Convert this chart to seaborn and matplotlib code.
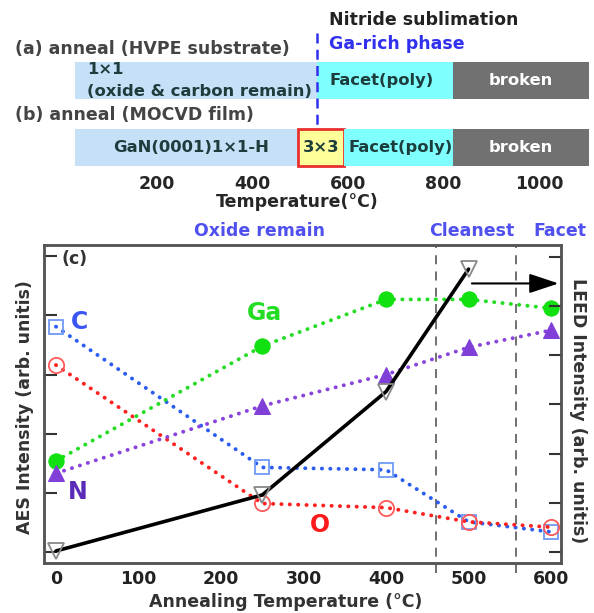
import numpy as np
import pandas as pd
import matplotlib
matplotlib.use('Agg')
import matplotlib.pyplot as plt
import seaborn as sns

sns.set_style('white')
plt.rcParams['font.family'] = ['DejaVu Sans']
plt.rcParams['font.weight'] = 'bold'

# --- データ (c) AES / LEED ---
temps = [0, 250, 400, 500, 600]
aes_c = [3.81, 1.43, 1.39, 0.51, 0.34]
aes_o = [3.16, 0.82, 0.75, 0.51, 0.42]
aes_ga = [1.54, 3.48, 4.27, 4.27, 4.12]
aes_n = [1.33, 2.47, 3.00, 3.46, 3.75]
leed_temps = [0, 250, 400, 500]
leed = [0.02, 1.16, 3.26, 5.75]
region_lines = [460, 558]
region_labels = ['Oxide remain', 'Cleanest', 'Facet']
region_pos = [247, 504, 611]

# --- データ (a)(b) 相図 ---
row_a_start = [28, 535, 820]
row_a_end = [535, 820, 1105]
row_a_names = ['', 'Facet(poly)', 'broken']
row_b_start = [28, 495, 592, 820]
row_b_end = [495, 592, 820, 1105]
row_b_names = ['GaN(0001)1×1-H', '3×3', 'Facet(poly)', 'broken']
temp_ticks = [200, 400, 600, 800, 1000]
sublimation_T = 535

light_blue = '#c6e0f8'
cyan = '#80ffff'
gray = '#717171'
yellow = '#ffff99'

fig = plt.figure(figsize=(5.94, 6.13), dpi=100)

# ===== 上段: 相図 (y はピクセル単位) =====
top = fig.add_axes([0, (613 - 172) / 613, 1, 172 / 613])
top.set_xlim(-129, 1115)
top.set_ylim(172, 0)
for s in top.spines.values():
    s.set_visible(False)

seg_a = pd.DataFrame({'start': row_a_start, 'end': row_a_end, 'name': row_a_names,
                      'color': [light_blue, cyan, gray]})
seg_b = pd.DataFrame({'start': row_b_start, 'end': row_b_end, 'name': row_b_names,
                      'color': [light_blue, yellow, cyan, gray]})

top.barh([80.5] * len(seg_a), seg_a['end'] - seg_a['start'], left=seg_a['start'],
         height=37, color=seg_a['color'], edgecolor='none')
top.barh([147.5] * len(seg_b), seg_b['end'] - seg_b['start'], left=seg_b['start'],
         height=37, color=seg_b['color'],
         edgecolor=['none', '#e83030', 'none', 'none'], linewidth=2)

txt = dict(fontsize=12.5, fontweight='bold', va='center')
bar_txt = dict(fontsize=11.8, fontweight='bold', va='center')
for i, r in seg_a.iterrows():
    if r['name']:
        c = 'white' if r['name'] == 'broken' else '#1d3d3d'
        cx = 671 if r['name'] == 'Facet(poly)' else (r['start'] + r['end']) / 2
        top.text(cx, 80.5, r['name'], ha='center', color=c, **bar_txt)
for i, r in seg_b.iterrows():
    c = 'white' if r['name'] == 'broken' else '#1d3d3d'
    cx = (r['start'] + r['end']) / 2
    if r['name'] == 'GaN(0001)1×1-H':
        cx = 271
    if r['name'] == 'Facet(poly)':
        cx = 709
    top.text(cx, 147.5, r['name'], ha='center', color=c, **bar_txt)

top.text(53, 70, '1×1', ha='left', color='#1d3d3d', **bar_txt)
top.text(53, 91, '(oxide & carbon remain)', ha='left', color='#1d3d3d', **bar_txt)
top.text(-97, 49, '(a) anneal (HVPE substrate)', ha='left', color='#444444', **txt)
top.text(-97, 115, '(b) anneal (MOCVD film)', ha='left', color='#444444', **txt)
top.text(560, 20, 'Nitride sublimation', ha='left', color='#222222', **txt)
top.text(560, 44, 'Ga-rich phase', ha='left', color='#3030ee', **txt)
top.plot([sublimation_T, sublimation_T], [33, 128], color='#3030ee', lw=1.8,
         linestyle=(0, (4, 2.5)))

top.set_yticks([])
top.set_xticks(temp_ticks)
top.tick_params(axis='x', length=0, pad=2, labelsize=12.5)
top.set_xlabel('Temperature(°C)', fontsize=12.5, fontweight='bold', labelpad=0)

# ===== 下段: (c) AES / LEED =====
ax = fig.add_axes([44 / 594, 50 / 613, 517 / 594, 318 / 613])
ax.set_xlim(-14.5, 612)
ax.set_ylim(-0.186, 5.19)

dot = dict(linestyle=(0, (0.05, 2.1)), linewidth=2.8, dash_capstyle='round')
sns.lineplot(x=temps, y=aes_c, ax=ax, color='#2a5cf0', marker='s', markersize=10,
             markerfacecolor='none', markeredgecolor='#6f9af5', markeredgewidth=1.3, **dot)
sns.lineplot(x=temps, y=aes_o, ax=ax, color='#ff2020', marker='o', markersize=11,
             markerfacecolor='none', markeredgecolor='#ff5a5a', markeredgewidth=1.3, **dot)
sns.lineplot(x=temps, y=aes_ga, ax=ax, color='#22dd22', marker='o', markersize=11,
             markerfacecolor='#11e011', markeredgecolor='#11e011', **dot)
sns.lineplot(x=temps, y=aes_n, ax=ax, color='#8844dd', marker='^', markersize=11,
             markerfacecolor='#8040d8', markeredgecolor='#8040d8', **dot)

for xv in region_lines:
    ax.axvline(xv, ymin=-0.03, ymax=1, color='#666666', lw=1.3,
               linestyle=(0, (5, 4)), clip_on=False, zorder=1)

for lab, xp in zip(region_labels, region_pos):
    ax.text(xp, 5.42, lab, ha='center', va='center', fontsize=12.5, fontweight='bold',
            color='#5050ee', clip_on=False)

ax.text(7, 4.95, '(c)', ha='left', va='center', fontsize=12.5, fontweight='bold', color='#333333')
ax.text(18, 3.89, 'C', ha='left', va='center', fontsize=17, fontweight='bold', color='#3a55f0')
ax.text(253, 4.04, 'Ga', ha='center', va='center', fontsize=17, fontweight='bold', color='#22dd22')
ax.text(26, 1.02, 'N', ha='center', va='center', fontsize=17, fontweight='bold', color='#5a2ab8')
ax.text(320, 0.46, 'O', ha='center', va='center', fontsize=17, fontweight='bold', color='#ff1a1a')

ax.annotate('', xy=(609, 4.54), xytext=(504, 4.54),
            arrowprops=dict(arrowstyle='-|>,head_length=0.9,head_width=0.3',
                            lw=1.5, color='black', mutation_scale=20, shrinkA=0, shrinkB=0),
            annotation_clip=False)

ax.set_xticks([0, 100, 200, 300, 400, 500, 600])
ax.set_yticks([0, 1, 2, 3, 4, 5])
ax.set_yticklabels([])
ax.tick_params(axis='x', direction='in', length=9, width=1.5, labelsize=12.5, pad=5,
               colors='#333333', labelcolor='#222222')
ax.tick_params(axis='y', direction='in', length=9, width=1.5, left=True, colors='#333333')
for s in ax.spines.values():
    s.set_linewidth(1.8)
    s.set_color('#555555')
ax.set_xlabel('Annealing Temperature (°C)', fontsize=12.5, fontweight='bold', color='#333333')
ax.xaxis.set_label_coords((286 - 44) / 517, -0.095)
ax.set_ylabel('AES Intensity (arb. unitis)', fontsize=12.5, fontweight='bold', color='#333333')
ax.yaxis.set_label_coords(-0.02, 0.49)

ax2 = ax.twinx()
ax2.set_ylim(-0.224, 6.24)
sns.lineplot(x=leed_temps, y=leed, ax=ax2, color='black', linewidth=2.6, marker='v',
             markersize=12, markerfacecolor='none', markeredgecolor='#888888',
             markeredgewidth=1.3)
ax2.set_yticks([0, 1, 2, 3, 4, 5, 6])
ax2.set_yticklabels([])
ax2.tick_params(axis='y', direction='in', length=9, width=1.5, right=True, colors='#333333')
ax2.set_ylabel('LEED Intensity (arb. unitis)', fontsize=12.5, fontweight='bold', color='#333333',
               rotation=270)
ax2.yaxis.set_label_coords(1.05, 0.48)
for s in ax2.spines.values():
    s.set_linewidth(1.8)
    s.set_color('#555555')

plt.savefig('out.png', dpi=100)
